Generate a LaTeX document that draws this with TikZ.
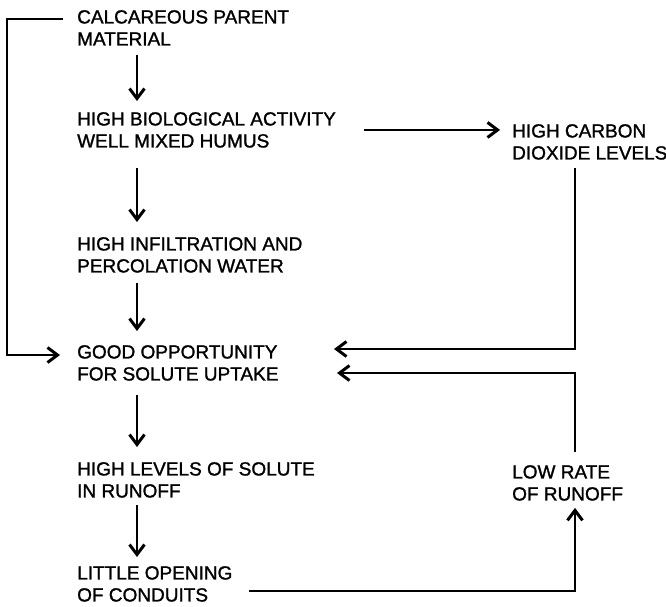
\documentclass[tikz,border=0pt]{standalone}
\usepackage{fontspec}
\setmainfont{Liberation Sans}
\newfontfamily\lblfont{Liberation Sans}[FakeBold=1.3]
\usetikzlibrary{arrows.meta}
\begin{document}
\begin{tikzpicture}[x=1pt,y=-1pt,
  lbl/.style={anchor=north west,inner sep=0pt,align=left,
    font=\lblfont\fontsize{19pt}{22pt}\selectfont},
  con/.style={line width=1.8pt,line join=miter},
  arr/.style={con,-{Straight Barb[length=10pt,width=15pt,line width=3pt]}}]
\useasboundingbox[fill=white] (0,0) rectangle (666,606);
% text nodes
\node[lbl] (calc)   at (77,10)  {CALCAREOUS PARENT\\MATERIAL};
\node[lbl] (bio)    at (77,112) {HIGH BIOLOGICAL ACTIVITY\\WELL MIXED HUMUS};
\node[lbl] (infil)  at (77,237) {HIGH INFILTRATION AND\\PERCOLATION WATER};
\node[lbl] (good)   at (77,345) {GOOD OPPORTUNITY\\FOR SOLUTE UPTAKE};
\node[lbl] (levels) at (77,462) {HIGH LEVELS OF SOLUTE\\IN RUNOFF};
\node[lbl] (little) at (77,566) {LITTLE OPENING\\OF CONDUITS};
\node[lbl] (carbon) at (512,124) {HIGH CARBON\\DIOXIDE LEVELS};
\node[lbl] (low)    at (512,465) {LOW RATE\\OF RUNOFF};
% helper coordinates
\coordinate (col) at (137,0);
\coordinate (rx)  at (575,0);
\coordinate (lt)  at (7,19);
\coordinate (lb)  at (7,355);
\coordinate (t1)  at (334,349);
\coordinate (t2)  at (337,373);
\coordinate (bs)  at (252,591);
% main column
\draw[arr,shorten <=9pt,shorten >=11pt]  (calc.south -| col)   -- (bio.north -| col);
\draw[arr,shorten <=20pt,shorten >=15pt] (bio.south -| col)    -- (infil.north -| col);
\draw[arr,shorten <=10pt,shorten >=14pt] (infil.south -| col)  -- (good.north -| col);
\draw[arr,shorten <=14pt,shorten >=15pt] (good.south -| col)   -- (levels.north -| col);
\draw[arr,shorten <=7pt,shorten >=9pt]   (levels.south -| col) -- (little.north -| col);
% side links
\draw[arr,shorten <=28pt,shorten >=12pt] (bio.east) -- (bio.east -| carbon.west);
\draw[arr,shorten <=14pt,shorten >=17pt] (calc.west |- lt) -- (lt) -- (lb) -- (good.west |- lb);
\draw[arr,shorten <=8pt] (carbon.south -| rx) |- (t1);
\draw[arr,shorten <=13pt] (low.north -| rx) |- (t2);
\draw[arr,shorten <=16pt,shorten >=7pt] (little.east |- bs) -| (low.south -| rx);
\end{tikzpicture}
\end{document}
